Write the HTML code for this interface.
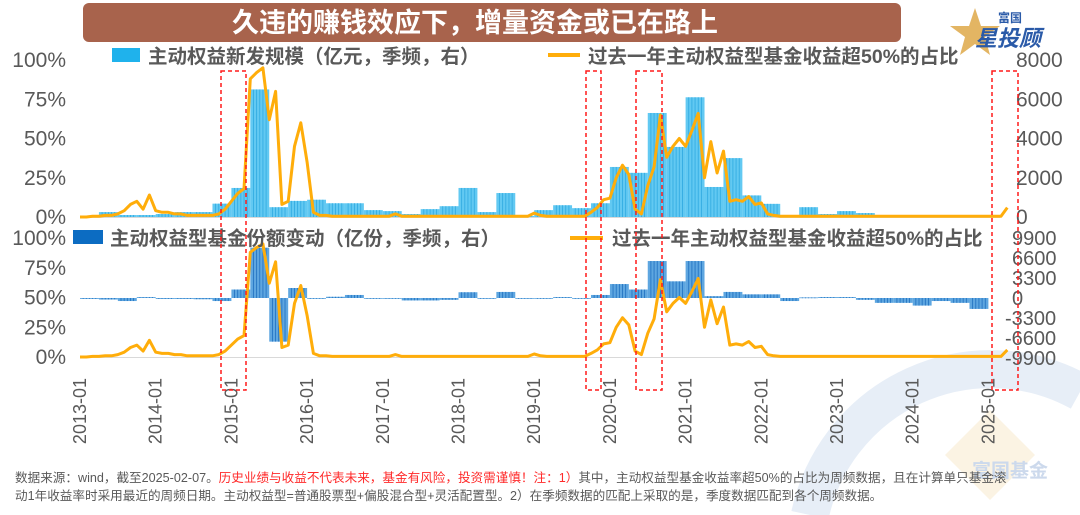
<!DOCTYPE html>
<html><head><meta charset="utf-8">
<style>
html,body{margin:0;padding:0;background:#fff;}
body{width:1080px;height:515px;overflow:hidden;position:relative;font-family:"Liberation Sans","Noto Sans CJK SC",sans-serif;}
svg{position:absolute;left:0;top:0;overflow:hidden;}
.foot{position:absolute;left:15px;top:469px;font-size:12.6px;line-height:18px;color:#595959;white-space:nowrap;}
.red{color:#ff2a2a;}
</style></head>
<body>
<svg id="chart" width="1080" height="515" xmlns="http://www.w3.org/2000/svg">
  <g>
    <path d="M 810 515 A 185 185 0 0 1 1080 392" fill="none" stroke="#e7eef7" stroke-width="38"/>
    <polygon points="990,410 1035,455 990,500 945,455" fill="#fbf3e3"/>
    <text x="1010" y="477" font-size="19" font-weight="bold" fill="#ccd9ec" text-anchor="middle" font-family="Liberation Sans, Noto Sans CJK SC, sans-serif">富国基金</text>
  </g>
  <g>
    <rect x="83" y="3" width="818" height="39" rx="6" fill="#a8634c"/>
    <text x="475" y="32" font-size="27" font-weight="bold" fill="#fff" text-anchor="middle" font-family="Liberation Sans, Noto Sans CJK SC, sans-serif">久违的赚钱效应下，增量资金或已在路上</text>
  </g>
  <g>
    <polygon points="975,8 981,26 1000,26 985,37 990,55 975,44 960,55 965,37 950,26 969,26" fill="#e3b563"/>
    <text x="1010" y="22" font-size="12" font-weight="bold" fill="#2a5aa8" text-anchor="middle" font-family="Liberation Sans, Noto Sans CJK SC, sans-serif">富国</text>
    <text x="975" y="46" font-size="22" font-weight="bold" font-style="italic" fill="#2a5aa8" font-family="Liberation Sans, Noto Sans CJK SC, sans-serif">星投顾</text>
  </g>
  <g id="plot"></g>
</svg>
<div class="foot">数据来源：wind，截至2025-02-07。<span class="red">历史业绩与收益不代表未来，基金有风险，投资需谨慎！注：1）</span>其中，主动权益型基金收益率超50%的占比为周频数据，且在计算单只基金滚<br>动1年收益率时采用最近的周频日期。主动权益型=普通股票型+偏股混合型+灵活配置型。2）在季频数据的匹配上采取的是，季度数据匹配到各个周频数据。</div>
<script>
// monthly share (%) of active equity funds with 1y return > 50%, from 2013-01
const ratioMonthly = [0,0,0.5,0.5,1,1, 2,4,8,10,5,14,4, 3,3,2,2,1,1,1,1,1, 2,5,10,15,18,88, 92,95,62,80,8,10,45,60,35,3,
 1,1,0.5,0.5,0.5,0.5,0.5,0.5,0.5,0.5,0.5,0.5,2,0.5,0.5,0.5,0.5,0.5,0.5,0.5,0.5,0.5,0.5,0.5,0.5,0.5,0.5,0.5,0.5,0.5,0.5,0.5,0.5,0.5,2.5,1,0.5,0.5,0.5,0.5,0.5,0.5,0.5,
 3,6,11,12,25,33,27,5,2,20,32,65,38,45,50,45,55,66,25,48,28,42,10,11,10,13,8,9,2,1,
 0.5,0.5,0.5,0.5,0.5,0.5,0.5,0.5,0.5,0.5,0.5,0.5,0.5,0.5,0.5,0.5,0.5,0.5,0.5,0.5,0.5,0.5,0.5,0.5,0.5,0.5,0.5,0.5,0.5,0.5,0.5,0.5,0.5,0.5,0.5,0.5,6];
// quarterly new issuance (亿元), from 2013Q1
const newIssuance = [50,250,100,100,150,250,250,680,1480,6500,500,820,880,700,700,350,300,150,400,550,1480,250,1220,50,
 350,600,450,700,2550,2250,5300,3570,6100,1530,3000,1100,670,100,500,150,300,200,80,50,60,40,30,50];
// quarterly share change (亿份), from 2013Q1
const shareChange = [-150,-250,-500,150,-150,-150,-200,-500,1400,8300,-7200,1650,-100,200,500,0,-100,-400,-400,-300,950,0,1000,-50,
 -100,150,0,500,2300,1400,6100,2750,6100,300,1000,600,600,-500,100,150,150,-300,-800,-800,-1250,-500,-800,-1800];
const yearTicks = ["2013-01","2014-01","2015-01","2016-01","2017-01","2018-01","2019-01","2020-01","2021-01","2022-01","2023-01","2024-01","2025-01"];
const pctTicks = [0,25,50,75,100];
const issuanceTicks = [0,2000,4000,6000,8000];
const shareTicks = [-9900,-6600,-3300,0,3300,6600,9900];

const NS="http://www.w3.org/2000/svg";
const plot=document.getElementById('plot');
function el(tag,attrs,parent){const e=document.createElementNS(NS,tag);for(const k in attrs)e.setAttribute(k,attrs[k]);(parent||plot).appendChild(e);return e;}
const X0=80, PXM=75.7/12;
const xMonth=m=>X0+m*PXM;
const xQuarter=q=>X0+q*3*PXM;
const yTopPct=v=>217-v/100*157;
const yTopAmt=v=>217-v/8000*157;
const yBotPct=v=>357-v/100*119;
const yBotAmt=v=>298-v/9900*60;

const gb1=el('g',{});


newIssuance.forEach((v,q)=>{
  const y=yTopAmt(v);
  const r=el('rect',{x:xQuarter(q),y:y,width:3*PXM,height:217-y,fill:'#62c9f2'},gb1);
  
  
  for(let k=1;k<6;k++) el('line',{x1:xQuarter(q)+k*3*PXM/6,x2:xQuarter(q)+k*3*PXM/6,y1:y,y2:217,stroke:'#2fa9e0','stroke-width':0.8},gb1);
});
const gb2=el('g',{});


shareChange.forEach((v,q)=>{
  const y=yBotAmt(v), y0=yBotAmt(0);
  const top=Math.min(y,y0), h=Math.max(Math.abs(y-y0),0.8);
  const r=el('rect',{x:xQuarter(q),y:top,width:3*PXM,height:h,fill:'#5ea6e0'},gb2);
  
  
  for(let k=1;k<6;k++) el('line',{x1:xQuarter(q)+k*3*PXM/6,x2:xQuarter(q)+k*3*PXM/6,y1:top,y2:top+h,stroke:'#1f6fbf','stroke-width':0.8},gb2);
});
el('line',{x1:80,x2:1000,y1:217.5,y2:217.5,stroke:'#d9d9d9','stroke-width':1});
el('line',{x1:80,x2:1000,y1:357.5,y2:357.5,stroke:'#d9d9d9','stroke-width':1});
function linePath(yf){return ratioMonthly.map((v,m)=>(m?'L':'M')+xMonth(m).toFixed(1)+','+yf(v).toFixed(1)).join(' ');}
const l1=el('path',{d:linePath(yTopPct),fill:'none',stroke:'#ffad0a','stroke-width':3,'stroke-linejoin':'round'});


const l2=el('path',{d:linePath(yBotPct),fill:'none',stroke:'#ffad0a','stroke-width':3,'stroke-linejoin':'round'});



const F='Liberation Sans, Noto Sans CJK SC, sans-serif';
function txt(s,x,y,attrs,name){const t=el('text',Object.assign({x:x,y:y,'font-size':21,fill:'#595959','font-family':F},attrs||{}));t.textContent=s;return t;}
pctTicks.forEach(v=>{txt(v+'%',66,yTopPct(v)+7,{'text-anchor':'end'},'left-axis-tick-top');txt(v+'%',66,yBotPct(v)+7,{'text-anchor':'end'},'left-axis-tick-bottom');});
issuanceTicks.forEach(v=>txt(String(v),1016,yTopAmt(v)+7,{},'right-axis-tick-top'));
shareTicks.forEach(v=>txt(String(v),v<0?1005:1012,yBotAmt(v)+7,{'font-size':20},'right-axis-tick-bottom'));
yearTicks.forEach((s,i)=>{const x=xMonth(i*12)+6;txt(s,x,378,{'text-anchor':'end',transform:'rotate(-90 '+x+' 378)','font-size':18},'x-axis-tick');});

let r=el('rect',{x:112,y:48,width:28,height:14,fill:'#1fb2ec'});


txt('主动权益新发规模（亿元，季频，右）',148,63,{'font-size':19.5,'font-weight':'bold'},'legend-issuance');
el('line',{x1:548,x2:580,y1:55,y2:55,stroke:'#ffad0a','stroke-width':4});
txt('过去一年主动权益型基金收益超50%的占比',588,63,{'font-size':19.5,'font-weight':'bold'},'legend-ratio-top');
r=el('rect',{x:73,y:230,width:30,height:14,fill:'#0c6cc2'});


txt('主动权益型基金份额变动（亿份，季频，右）',110,245,{'font-size':19.5,'font-weight':'bold'},'legend-share');
el('line',{x1:570,x2:603,y1:238,y2:238,stroke:'#ffad0a','stroke-width':4});
txt('过去一年主动权益型基金收益超50%的占比',612,245,{'font-size':19.5,'font-weight':'bold'},'legend-ratio-bottom');

[[221,246],[586,601],[636,662],[992,1018]].forEach(b=>{
  const bx=el('rect',{x:b[0],y:71,width:b[1]-b[0],height:319,fill:'none',stroke:'#ff1a1a','stroke-width':1.5,'stroke-dasharray':'4,3'});
  
  
});
</script>
</body></html>
